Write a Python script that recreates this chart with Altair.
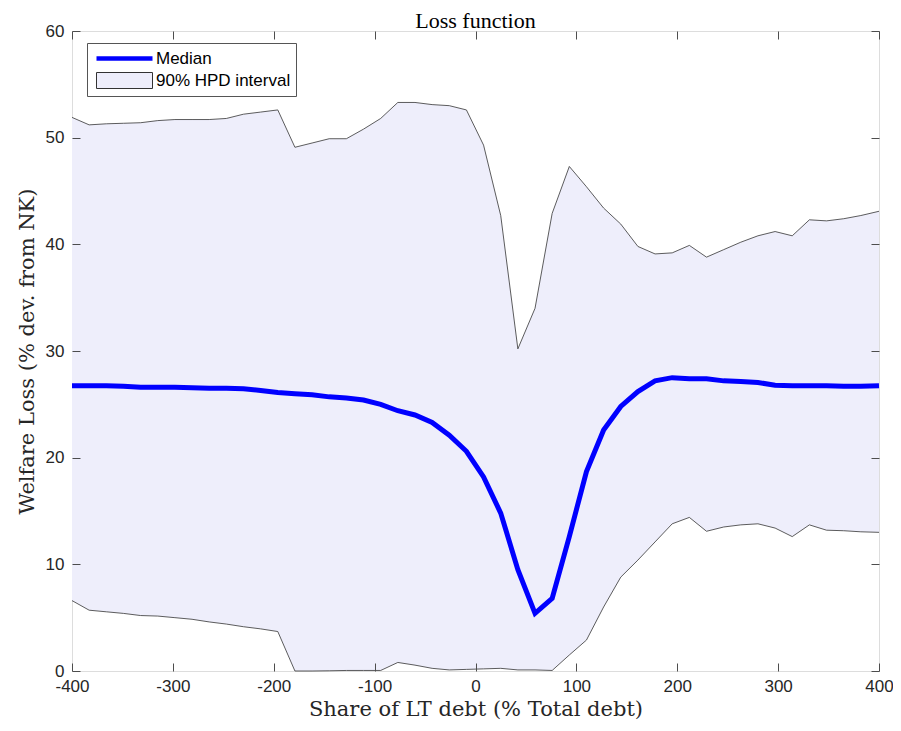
import altair as alt
import pandas as pd

# Share of LT debt (% Total debt) grid
share = [-400, -383, -366, -349, -332, -315, -298, -281, -264, -247, -230, -213,
         -196, -179, -162, -145, -128, -111, -94, -77, -60, -43, -26, -9,
         8, 25, 42, 59, 76, 93, 110, 127, 144, 161, 178, 195, 212, 229, 246, 263,
         280, 297, 314, 331, 348, 365, 382, 400]

median = [26.75, 26.75, 26.75, 26.7, 26.6, 26.6, 26.6, 26.55, 26.5, 26.5, 26.45, 26.3,
          26.1, 26.0, 25.9, 25.7, 25.6, 25.4, 25.0, 24.4, 24.0, 23.3, 22.1, 20.6,
          18.2, 14.8, 9.5, 5.4, 6.8, 12.6, 18.7, 22.6, 24.8, 26.2, 27.2, 27.5,
          27.4, 27.4, 27.2, 27.15, 27.05, 26.8, 26.75, 26.75, 26.75, 26.7, 26.7, 26.75]

upper = [51.9, 51.2, 51.3, 51.35, 51.4, 51.6, 51.7, 51.7, 51.7, 51.8, 52.2, 52.4,
         52.6, 49.1, 49.5, 49.9, 49.9, 50.8, 51.8, 53.3, 53.3, 53.1, 53.0, 52.6,
         49.3, 42.7, 30.2, 34.0, 42.9, 47.3, 45.4, 43.4, 41.9, 39.8, 39.1, 39.2,
         39.9, 38.8, 39.5, 40.2, 40.8, 41.2, 40.8, 42.3, 42.2, 42.4, 42.7, 43.1]

lower = [6.6, 5.7, 5.55, 5.4, 5.2, 5.15, 5.0, 4.85, 4.6, 4.4, 4.15, 3.95,
         3.7, 0.0, 0.0, 0.02, 0.05, 0.05, 0.05, 0.8, 0.55, 0.25, 0.1, 0.15,
         0.2, 0.25, 0.1, 0.1, 0.05, 1.5, 2.9, 6.0, 8.8, 10.4, 12.1, 13.8,
         14.4, 13.1, 13.5, 13.7, 13.8, 13.4, 12.6, 13.7, 13.2, 13.15, 13.05, 13.0]

x_ticks = [-400, -300, -200, -100, 0, 100, 200, 300, 400]
y_ticks = [0, 10, 20, 30, 40, 50, 60]
series_names = ["Median", "90% HPD interval"]

df = pd.DataFrame({"share": share, "median": median, "upper": upper, "lower": lower})
legend_df = pd.DataFrame({"series": series_names})

FRAME = "#4d4d4d"
TICK_FONT = "Liberation Sans"
SERIF = "Liberation Serif"
AXIS_SERIF = "DejaVu Serif"
BAND = "#eeeefb"
BLUE = "#0000ff"

xscale = alt.Scale(domain=[-400, 400], nice=False, zero=False)
yscale = alt.Scale(domain=[0, 60], nice=False, zero=False)

axis_common = dict(tickSize=8, offset=-8, domain=False, grid=False,
                   tickColor=FRAME, tickWidth=1, zindex=2, labelFlush=False,
                   labelExpr="datum.value + ''",
                   labelFont=TICK_FONT, labelFontSize=17, labelColor="#262626",
                   titleFont=AXIS_SERIF, titleFontSize=21, titleFontWeight="normal",
                   titleColor="#262626")

x_bottom = alt.X("share:Q", scale=xscale,
                 axis=alt.Axis(orient="bottom", values=x_ticks, labelPadding=7,
                               title="Share of LT debt (% Total debt)",
                               titlePadding=4, **axis_common))
y_left = alt.Y("upper:Q", scale=yscale,
               axis=alt.Axis(orient="left", values=y_ticks, labelPadding=8,
                             title="Welfare Loss (% dev. from NK)",
                             titlePadding=8, **axis_common))

band = alt.Chart(df).mark_area(color=BAND, opacity=1).encode(
    x=x_bottom, y=y_left, y2="lower:Q")

upper_line = alt.Chart(df).mark_line(color="#333333", strokeWidth=0.8).encode(
    x=alt.X("share:Q", scale=xscale, axis=None),
    y=alt.Y("upper:Q", scale=yscale, axis=None))

lower_line = alt.Chart(df).mark_line(color="#333333", strokeWidth=0.8).encode(
    x=alt.X("share:Q", scale=xscale, axis=None),
    y=alt.Y("lower:Q", scale=yscale, axis=None))

top_right_common = dict(tickSize=8, offset=-8, domain=False, grid=False,
                        labels=False, title=None, tickColor=FRAME, tickWidth=1,
                        zindex=2, minExtent=0, maxExtent=0)

median_line = alt.Chart(df).mark_line(color=BLUE, strokeWidth=5).encode(
    x=alt.X("share:Q", scale=xscale,
            axis=alt.Axis(orient="top", values=x_ticks, **top_right_common)),
    y=alt.Y("median:Q", scale=yscale,
            axis=alt.Axis(orient="right", values=y_ticks, **top_right_common)),
)

legend = alt.Legend(
    orient="none", legendX=15, legendY=12, title=None,
    fillColor="white", strokeColor="#555555", padding=5, cornerRadius=0,
    labelFont=TICK_FONT, labelFontSize=17, labelColor="black",
    symbolSize=256, symbolOffset=22, labelOffset=21, rowPadding=2,
    symbolOpacity=1,
)

line_path = "M-3.5,0H3.5"
rect_path = "M-3.5,-1H3.5V1H-3.5Z"

legend_layer = alt.Chart(legend_df).transform_filter("false").mark_point(
    size=256, filled=False, opacity=1).encode(
    shape=alt.Shape("series:N", scale=alt.Scale(domain=series_names, range=[line_path, rect_path]), legend=legend),
    stroke=alt.Stroke("series:N", scale=alt.Scale(domain=series_names, range=[BLUE, "#333333"]), legend=legend),
    fill=alt.Fill("series:N", scale=alt.Scale(domain=series_names, range=["transparent", BAND]), legend=legend),
    strokeWidth=alt.StrokeWidth("series:N", scale=alt.Scale(domain=series_names, range=[4.5, 1]), legend=legend),
)

chart = alt.layer(band, upper_line, lower_line, median_line, legend_layer).resolve_axis(
    x="independent", y="independent"
).properties(
    width=807, height=640,
    title=alt.TitleParams("Loss function", font=SERIF, fontSize=22,
                          fontWeight="normal", color="black", offset=8, dy=19),
    autosize=alt.AutoSizeParams(type="none"),
    padding={"left": 64, "top": 23, "right": 14, "bottom": 52},
).configure_view(stroke=FRAME, strokeWidth=1).configure(background="white")

chart.save("out.html", embed_options={"renderer": "svg", "actions": False})
